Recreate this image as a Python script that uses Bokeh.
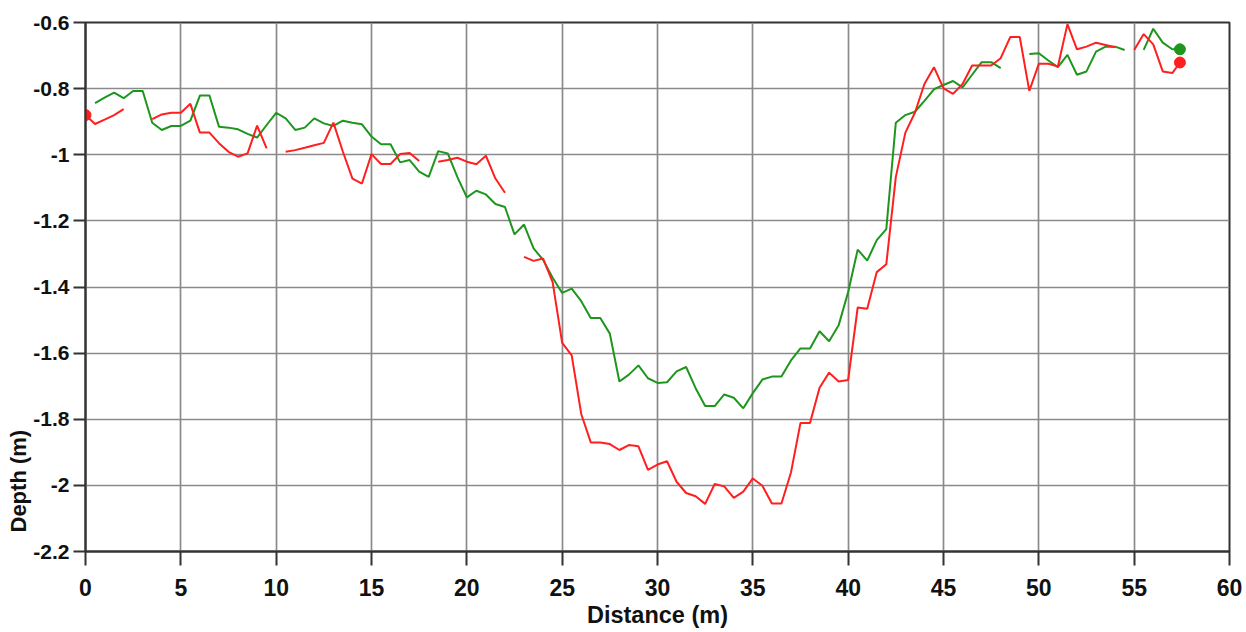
from bokeh.plotting import figure
from bokeh.models import FixedTicker, ColumnDataSource, Title
from bokeh.embed import file_html
from bokeh.resources import INLINE

nan = float("nan")

# Distance along the transect (m)
distance = [
    0, 0.5, 1, 1.5, 2, 2.5, 3, 3.5, 4, 4.5,
    5, 5.5, 6, 6.5, 7, 7.5, 8, 8.5, 9, 9.5,
    10, 10.5, 11, 11.5, 12, 12.5, 13, 13.5, 14, 14.5,
    15, 15.5, 16, 16.5, 17, 17.5, 18, 18.5, 19, 19.5,
    20, 20.5, 21, 21.5, 22, 22.5, 23, 23.5, 24, 24.5,
    25, 25.5, 26, 26.5, 27, 27.5, 28, 28.5, 29, 29.5,
    30, 30.5, 31, 31.5, 32, 32.5, 33, 33.5, 34, 34.5,
    35, 35.5, 36, 36.5, 37, 37.5, 38, 38.5, 39, 39.5,
    40, 40.5, 41, 41.5, 42, 42.5, 43, 43.5, 44, 44.5,
    45, 45.5, 46, 46.5, 47, 47.5, 48, 48.5, 49, 49.5,
    50, 50.5, 51, 51.5, 52, 52.5, 53, 53.5, 54, 54.5,
    55, 55.5, 56, 56.5, 57, 57.4,
]

# Red profile depth (m), NaN = no reading
red_depth = [
    -0.880, -0.907, -0.894, -0.880, -0.862, nan, nan, -0.892, -0.878, -0.873,
    -0.873, -0.846, -0.933, -0.933, -0.965, -0.991, -1.006, -0.996, -0.912, -0.981,
    nan, -0.991, -0.986, -0.979, -0.971, -0.964, -0.903, -0.991, -1.072, -1.087,
    -0.998, -1.028, -1.028, -0.998, -0.995, -1.019, nan, -1.021, -1.016, -1.009,
    -1.021, -1.029, -1.003, -1.072, -1.115, nan, -1.309, -1.321, -1.314, -1.385,
    -1.569, -1.607, -1.784, -1.870, -1.870, -1.875, -1.893, -1.878, -1.882, -1.953,
    -1.937, -1.927, -1.989, -2.023, -2.033, -2.056, -1.996, -2.003, -2.038, -2.019,
    -1.979, -2.001, -2.055, -2.055, -1.961, -1.811, -1.811, -1.705, -1.659, -1.686,
    -1.681, -1.462, -1.466, -1.355, -1.331, -1.067, -0.933, -0.873, -0.786, -0.735,
    -0.799, -0.816, -0.786, -0.730, -0.730, -0.730, -0.708, -0.644, -0.644, -0.807,
    -0.725, -0.725, -0.733, -0.605, -0.681, -0.673, -0.661, -0.668, -0.675, nan,
    -0.683, -0.635, -0.666, -0.748, -0.753, -0.721,
]

# Green profile depth (m), NaN = no reading
green_depth = [
    nan, -0.844, -0.827, -0.812, -0.829, -0.807, -0.807, -0.903, -0.925, -0.913,
    -0.913, -0.897, -0.821, -0.821, -0.915, -0.918, -0.923, -0.937, -0.948, -0.910,
    -0.873, -0.890, -0.925, -0.918, -0.890, -0.905, -0.913, -0.897, -0.903, -0.908,
    -0.945, -0.968, -0.968, -1.023, -1.016, -1.051, -1.067, -0.989, -0.996, -1.067,
    -1.129, -1.109, -1.120, -1.149, -1.158, -1.241, -1.211, -1.283, -1.318, -1.372,
    -1.418, -1.405, -1.443, -1.494, -1.494, -1.541, -1.686, -1.665, -1.637, -1.676,
    -1.690, -1.688, -1.655, -1.642, -1.706, -1.760, -1.760, -1.725, -1.735, -1.767,
    -1.721, -1.680, -1.671, -1.671, -1.622, -1.586, -1.586, -1.534, -1.564, -1.516,
    -1.415, -1.287, -1.320, -1.258, -1.225, -0.903, -0.880, -0.870, -0.837, -0.802,
    -0.789, -0.777, -0.796, -0.758, -0.720, -0.720, -0.738, nan, nan, -0.695,
    -0.693, -0.715, -0.735, -0.698, -0.758, -0.748, -0.688, -0.673, -0.673, -0.683,
    nan, -0.683, -0.619, -0.661, -0.681, -0.681,
]

# End markers
red_marker_dist = [0, 57.4]
red_marker_depth = [-0.880, -0.721]
green_marker_dist = [57.4]
green_marker_depth = [-0.681]

x_ticks = [0, 5, 10, 15, 20, 25, 30, 35, 40, 45, 50, 55, 60]
y_ticks = [-2.2, -2.0, -1.8, -1.6, -1.4, -1.2, -1.0, -0.8, -0.6]
y_tick_labels = ["-2.2", "-2", "-1.8", "-1.6", "-1.4", "-1.2", "-1", "-0.8", "-0.6"]

assert len(distance) == len(red_depth) == len(green_depth)

FONT = "Liberation Sans"
RED = "#ff1f1f"
GREEN = "#1e961e"
INK = "#111111"

p = figure(width=1246, height=632, output_backend="svg", toolbar_location=None,
           x_range=(0, 60), y_range=(-2.2, -0.6),
           min_border_left=85, min_border_right=17, min_border_top=22, min_border_bottom=81)
p.background_fill_color = "white"
p.border_fill_color = "white"
p.outline_line_color = "#333333"
p.outline_line_width = 2

for g in (p.xgrid, p.ygrid):
    g.grid_line_color = "#8a8a8a"
    g.grid_line_width = 1.7

p.xaxis.ticker = FixedTicker(ticks=x_ticks)
p.yaxis.ticker = FixedTicker(ticks=y_ticks)
p.yaxis.major_label_overrides = dict(zip(y_ticks, y_tick_labels))

for ax in (p.xaxis, p.yaxis):
    ax.axis_line_color = "#333333"
    ax.axis_line_width = 2
    ax.major_tick_line_color = "#333333"
    ax.major_tick_line_width = 2
    ax.major_tick_in = 0
    ax.minor_tick_line_color = None
    ax.major_label_text_font = FONT
    ax.major_label_text_font_style = "bold"
    ax.major_label_text_color = INK
    ax.axis_label_text_font = FONT
    ax.axis_label_text_font_style = "bold"
    ax.axis_label_text_color = INK

p.xaxis.major_tick_out = 14
p.xaxis.major_label_text_font_size = "23px"
p.xaxis.major_label_standoff = 13
p.xaxis.axis_label = "Distance (m)"
p.xaxis.axis_label_text_font_size = "23.5px"
p.xaxis.axis_label_standoff = 3

p.yaxis.major_tick_out = 12
p.yaxis.major_label_text_font_size = "21px"
p.yaxis.major_label_standoff = 4

# y-axis title placed toward the bottom of the axis, as in the original
p.add_layout(Title(text="Depth (m)", align="left", offset=19, standoff=0,
                   text_font=FONT, text_font_style="bold", text_font_size="22px",
                   text_color=INK), "left")

src = ColumnDataSource(dict(distance=distance, red=red_depth, green=green_depth))
p.line("distance", "green", source=src, line_color=GREEN, line_width=2)
p.line("distance", "red", source=src, line_color=RED, line_width=2)
p.scatter(red_marker_dist, red_marker_depth, size=11, color=RED)
p.scatter(green_marker_dist, green_marker_depth, size=11, color=GREEN)

open("out.html", "w").write(file_html(p, INLINE))
